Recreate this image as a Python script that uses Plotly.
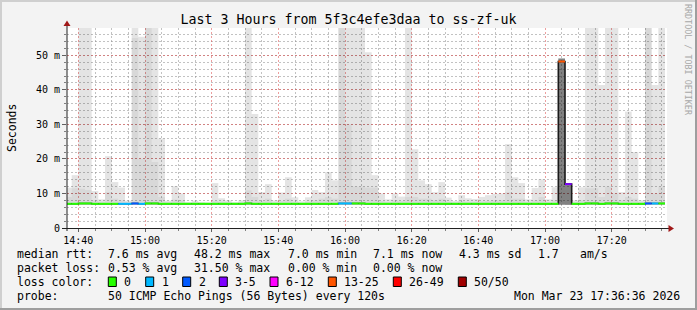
import pandas as pd
import plotly.graph_objects as go

# ------------------------------------------------------------------ data
window_start = "2026-03-23 14:36:36"
window_end = "2026-03-23 17:36:36"
first_step = "2026-03-23 14:36:00"
step_seconds = 120

# median round-trip time per 120 s step (ms)
median_ms = [
    7.0, 7.0, 7.1, 7.1, 7.0, 7.0, 7.0, 7.0, 7.0, 7.0,
    7.1, 7.0, 7.1, 7.1, 7.0, 7.0, 7.0, 7.0, 7.0, 7.0,
    7.0, 7.0, 7.0, 7.0, 7.0, 7.0, 7.0, 7.1, 7.0, 7.0,
    7.0, 7.0, 7.0, 7.0, 7.0, 7.0, 7.0, 7.0, 7.0, 7.0,
    7.0, 7.1, 7.1, 7.1, 7.1, 7.0, 7.0, 7.0, 7.0, 7.0,
    7.0, 7.0, 7.0, 7.0, 7.0, 7.0, 7.0, 7.0, 7.0, 7.0,
    7.0, 7.0, 7.0, 7.0, 7.0, 7.0, 7.0, 7.0, 7.0, 7.0,
    7.0, 7.0, 7.0, 7.0, 48.2, 12.7, 7.0, 7.0, 7.1, 7.1,
    7.0, 7.1, 7.1, 7.0, 7.0, 7.0, 7.0, 7.1, 7.1, 7.1,
]

# smoke: lowest ping, upper quartile, highest ping (ms)
smoke_low_ms = [
    6.8, 6.8, 6.8, 6.8, 6.8, 6.8, 6.8, 6.8, 6.8, 6.8,
    6.8, 6.8, 6.8, 6.8, 6.8, 6.8, 6.8, 6.8, 6.8, 6.8,
    6.8, 6.8, 6.8, 6.8, 6.8, 6.8, 6.8, 6.8, 6.8, 6.8,
    6.8, 6.8, 6.8, 6.8, 6.8, 6.8, 6.8, 6.8, 6.8, 6.8,
    6.8, 6.8, 6.8, 6.8, 6.8, 6.8, 6.8, 6.8, 6.8, 6.8,
    6.8, 6.8, 6.8, 6.8, 6.8, 6.8, 6.8, 6.8, 6.8, 6.8,
    6.8, 6.8, 6.8, 6.8, 6.8, 6.8, 6.8, 6.8, 6.8, 6.8,
    6.8, 6.8, 6.8, 6.8, 6.7, 6.7, 6.8, 6.8, 6.8, 6.8,
    6.8, 6.8, 6.8, 6.8, 6.8, 6.8, 6.8, 6.8, 6.8, 6.8,
]
smoke_mid_ms = [
    9.0, 11.5, 11.4, 11.0, 8.0, 7.6, 10.4, 8.5, 8.0, 7.5,
    55.0, 20.0, 60.0, 19.1, 9.0, 7.5, 8.2, 8.0, 7.3, 7.4,
    7.3, 7.3, 7.8, 7.6, 7.5, 7.3, 7.5, 10.9, 9.0, 7.8,
    8.5, 7.4, 7.8, 8.5, 7.6, 7.3, 7.6, 8.0, 8.5, 9.0,
    8.5, 60.0, 30.0, 12.0, 12.0, 11.7, 11.7, 7.8, 7.5, 8.0,
    7.8, 9.0, 9.0, 8.5, 8.5, 8.0, 8.5, 7.6, 7.4, 7.8,
    7.6, 7.6, 7.7, 7.8, 8.0, 8.0, 10.4, 8.5, 8.5, 7.5,
    8.0, 9.0, 7.5, 8.0, 49.1, 12.9, 7.5, 8.0, 11.5, 11.5,
    9.0, 12.0, 10.0, 8.0, 9.0, 8.5, 7.5, 60.0, 10.0, 12.0,
]
smoke_high_ms = [
    11.7, 15.3, 60.0, 60.0, 10.7, 8.3, 20.8, 13.3, 11.7, 7.9,
    60.0, 55.4, 60.0, 60.0, 25.9, 7.9, 12.1, 10.0, 7.5, 7.9,
    7.5, 7.4, 13.0, 8.6, 8.0, 7.5, 8.0, 60.0, 33.0, 10.4,
    12.7, 8.0, 10.3, 14.7, 8.9, 7.7, 8.9, 11.0, 10.4, 16.2,
    13.8, 60.0, 60.0, 60.0, 60.0, 50.9, 15.3, 10.0, 8.3, 10.0,
    9.1, 60.0, 22.8, 13.8, 12.7, 10.4, 13.3, 8.8, 7.8, 9.5,
    8.6, 8.4, 9.0, 9.5, 9.9, 10.0, 24.3, 14.7, 13.0, 8.3,
    11.6, 14.1, 8.3, 11.8, 49.1, 12.9, 8.0, 11.8, 60.0, 60.0,
    41.4, 60.0, 60.0, 10.4, 33.7, 22.0, 8.0, 60.0, 41.4, 60.0,
]
# steps where nearly all pings are spread (dense dark smoke)
dense_steps = [74, 75]
dense_high_ms = [49.1, 12.9]

# lost pings out of 50 per step
lost_pings = [
    0, 0, 0, 0, 0, 0, 0, 0, 1, 1,
    2, 1, 0, 0, 0, 0, 0, 0, 0, 0,
    0, 0, 0, 0, 0, 0, 0, 0, 0, 0,
    0, 0, 0, 0, 0, 0, 0, 0, 0, 0,
    0, 1, 1, 0, 0, 0, 0, 0, 0, 0,
    0, 0, 0, 0, 0, 0, 0, 0, 0, 0,
    0, 0, 0, 0, 0, 0, 0, 0, 0, 0,
    0, 0, 0, 0, 16, 4, 0, 0, 0, 0,
    0, 0, 0, 0, 0, 0, 0, 2, 1, 0,
]

loss_labels = ["0", "1", "2", "3-5", "6-12", "13-25", "26-49", "50/50"]
loss_upper = [0, 1, 2, 5, 12, 25, 49, 50]
loss_colors = ["#26ff00", "#00b8ff", "#0059ff", "#7e00ff",
               "#ff00ff", "#ff5500", "#ff0000", "#a10000"]

y_tick_values = [0, 10, 20, 30, 40, 50]
y_tick_labels = ["0", "10 m", "20 m", "30 m", "40 m", "50 m"]
y_top = 57.9

title_text = "Last 3 Hours from 5f3c4efe3daa to ss-zf-uk"
stats_rtt = ["median rtt:", "7.6 ms avg", "48.2 ms max", "7.0 ms min",
             "7.1 ms now", "4.3 ms sd", "1.7", "am/s"]
stats_loss = ["packet loss:", "0.53 % avg", "31.50 % max", "0.00 % min", "0.00 % now"]
probe_text = ["probe:", "50 ICMP Echo Pings (56 Bytes) every 120s", "Mon Mar 23 17:36:36 2026"]

# ------------------------------------------------------------------ geometry
W, H = 697, 310
L, R, T, B = 67, 667, 28, 228
FONT = "DejaVu Sans Mono"


def px(x):
    return (x - L) / (R - L)


def py(y):
    return (B - y) / (B - T)


t0 = pd.Timestamp(first_step)
step = pd.Timedelta(seconds=step_seconds)
n = len(median_ms)
starts = [t0 + k * step for k in range(n)]
ends = [s + step for s in starts]
centers = [s + step / 2 for s in starts]
width_ms = step_seconds * 1000


def loss_bin(lost):
    for i, up in enumerate(loss_upper):
        if lost <= up:
            return i
    return len(loss_upper) - 1


fig = go.Figure()

# smoke layers (semi-transparent so the grid shows through, as in rrdtool)
fig.add_trace(go.Bar(
    x=centers, y=[h - l for h, l in zip(smoke_high_ms, smoke_low_ms)], base=smoke_low_ms,
    width=width_ms, marker=dict(color="rgba(0,0,0,0.105)", line=dict(width=0)),
    hoverinfo="skip", showlegend=False))
fig.add_trace(go.Bar(
    x=centers, y=[m - l for m, l in zip(smoke_mid_ms, smoke_low_ms)], base=smoke_low_ms,
    width=width_ms, marker=dict(color="rgba(0,0,0,0.05)", line=dict(width=0)),
    hoverinfo="skip", showlegend=False))
fig.add_trace(go.Bar(
    x=[centers[k] for k in dense_steps],
    y=[h - smoke_low_ms[k] for k, h in zip(dense_steps, dense_high_ms)],
    base=[smoke_low_ms[k] for k in dense_steps],
    width=width_ms, marker=dict(color="rgba(0,0,0,0.40)", line=dict(width=0)),
    hoverinfo="skip", showlegend=False))

# black stepped median outline (gives the vertical transitions)
fig.add_trace(go.Scatter(
    x=starts + [ends[-1]], y=median_ms + [median_ms[-1]], mode="lines",
    line=dict(color="#1a1a1a", width=1.6, shape="hv"),
    hoverinfo="skip", showlegend=False))

# loss-coloured median segments
for b, color in enumerate(loss_colors):
    xs, ys = [], []
    for k in range(n):
        if loss_bin(lost_pings[k]) == b:
            xs += [starts[k], ends[k], None]
            ys += [median_ms[k], median_ms[k], None]
    if xs:
        fig.add_trace(go.Scatter(x=xs, y=ys, mode="lines",
                                 line=dict(color=color, width=2),
                                 hoverinfo="skip", showlegend=False))

minor_grid = "rgba(143,143,143,0.55)"
major_grid = "rgba(222,80,80,0.55)"

fig.update_layout(
    width=W, height=H,
    margin=dict(l=L, r=W - R, t=T, b=H - B, pad=0),
    paper_bgcolor="#f3f3f3", plot_bgcolor="#ffffff",
    barmode="overlay", showlegend=False,
    font=dict(family=FONT, size=10, color="#000000"),
    title=dict(text=title_text, x=0.5, xref="container", xanchor="center",
               y=1 - 19 / H, yref="container", yanchor="middle",
               font=dict(family=FONT, size=13.3, color="#000000")),
    xaxis=dict(
        type="date", range=[window_start, window_end],
        dtick=20 * 60 * 1000, tickformat="%H:%M",
        showgrid=True, gridcolor=major_grid, griddash="2px,2px", gridwidth=1,
        ticks="outside", ticklen=3, tickcolor="#606060", tickwidth=1,
        showline=False, zeroline=False,
        tickfont=dict(family=FONT, size=10),
        minor=dict(dtick=5 * 60 * 1000, showgrid=True, gridcolor=minor_grid,
                   griddash="2px,2px", gridwidth=1, ticks="outside", ticklen=2,
                   tickcolor="#808080"),
        fixedrange=True,
    ),
    yaxis=dict(
        range=[0, y_top], tickmode="array", tickvals=y_tick_values, ticktext=y_tick_labels,
        showgrid=True, gridcolor=major_grid, griddash="2px,2px", gridwidth=1,
        ticks="outside", ticklen=4, tickcolor="#606060", tickwidth=1,
        showline=False, zeroline=False,
        tickfont=dict(family=FONT, size=10),
        minor=dict(tickmode="linear", tick0=0, dtick=2, showgrid=True, gridcolor=minor_grid,
                   griddash="2px,2px", gridwidth=1, ticks="outside", ticklen=2,
                   tickcolor="#808080"),
        fixedrange=True,
    ),
)

shapes = []
# 3-D frame of the image
shapes.append(dict(type="rect", xref="paper", yref="paper", x0=px(0), x1=px(W), y0=py(0), y1=py(2),
                   fillcolor="#cfcfcf", line=dict(width=0), layer="above"))
shapes.append(dict(type="rect", xref="paper", yref="paper", x0=px(0), x1=px(2), y0=py(0), y1=py(H),
                   fillcolor="#cfcfcf", line=dict(width=0), layer="above"))
shapes.append(dict(type="rect", xref="paper", yref="paper", x0=px(0), x1=px(W), y0=py(H - 2), y1=py(H),
                   fillcolor="#9e9e9e", line=dict(width=0), layer="above"))
shapes.append(dict(type="rect", xref="paper", yref="paper", x0=px(W - 2), x1=px(W), y0=py(0), y1=py(H),
                   fillcolor="#9e9e9e", line=dict(width=0), layer="above"))
# axes with arrows
shapes.append(dict(type="line", xref="paper", yref="paper", x0=px(62), x1=px(670), y0=py(228.5), y1=py(228.5),
                   line=dict(color="#202020", width=1), layer="above"))
shapes.append(dict(type="line", xref="paper", yref="paper", x0=px(67), x1=px(67), y0=py(231), y1=py(24),
                   line=dict(color="#202020", width=1), layer="above"))


def tri(pts):
    return "M " + " L ".join(f"{px(a):.5f},{py(b):.5f}" for a, b in pts) + " Z"


shapes.append(dict(type="path", xref="paper", yref="paper",
                   path=tri([(668.5, 225.0), (674.0, 228.5), (668.5, 232.0)]),
                   fillcolor="#a01818", line=dict(width=0), layer="above"))
shapes.append(dict(type="path", xref="paper", yref="paper",
                   path=tri([(63.5, 26.0), (67.0, 20.5), (70.5, 26.0)]),
                   fillcolor="#a01818", line=dict(width=0), layer="above"))

annotations = []


def text(x, y, s, size=11.5, anchor="left", color="#000000", angle=0):
    annotations.append(dict(xref="paper", yref="paper", x=px(x), y=py(y), text=s,
                            showarrow=False, xanchor=anchor, yanchor="middle",
                            textangle=angle, borderpad=0,
                            font=dict(family=FONT, size=size, color=color)))


text(12, 128, "Seconds", size=11.5, anchor="center", angle=-90)
text(688, 60, "RRDTOOL / TOBI OETIKER", size=8.4, anchor="center", color="#a8a8a8", angle=90)

rtt_x = [16, 107.3, 192.7, 286.7, 372.3, 458.3, 536.7, 579.3]
for x, s in zip(rtt_x, stats_rtt):
    text(x, 254, s)
loss_x = [16, 107.3, 192.7, 286.7, 372.3]
for x, s in zip(loss_x, stats_loss):
    text(x, 268.3, s)
text(16, 281.7, "loss color:")
box_x = [108.3, 145.7, 182.7, 219.3, 270.0, 328.3, 393.3, 458.3]
for x, lab, col in zip(box_x, loss_labels, loss_colors):
    shapes.append(dict(type="rect", xref="paper", yref="paper", x0=px(x), x1=px(x + 8),
                       y0=py(286.5), y1=py(277.0), fillcolor=col,
                       line=dict(color="#000000", width=1), layer="above"))
    text(x + 15, 281.7, lab)
probe_x = [16, 107.3, 512.7]
for x, s in zip(probe_x, probe_text):
    text(x, 296, s)

fig.update_layout(shapes=shapes, annotations=annotations)

fig.write_html("out.html", config={"displayModeBar": False})
